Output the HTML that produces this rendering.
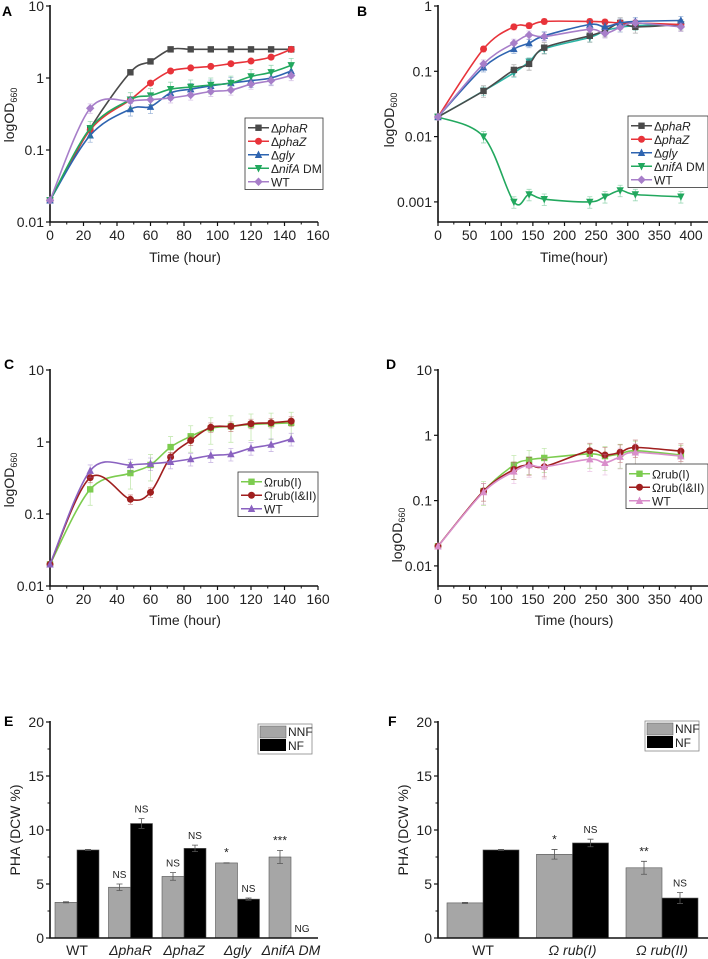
<!DOCTYPE html>
<html><head><meta charset="utf-8">
<style>
html,body{margin:0;padding:0;background:#fff;}
svg{display:block;font-family:"Liberation Sans",sans-serif;}
</style></head>
<body>
<svg id="fig" width="708" height="959" viewBox="0 0 708 959" xmlns="http://www.w3.org/2000/svg">
<text x="2" y="16" font-size="14" font-weight="bold">A</text>
<text x="357" y="16" font-size="14" font-weight="bold">B</text>
<text x="4" y="369" font-size="14" font-weight="bold">C</text>
<text x="386" y="369" font-size="14" font-weight="bold">D</text>
<text x="4" y="726" font-size="14" font-weight="bold">E</text>
<text x="388" y="726" font-size="14" font-weight="bold">F</text>
</svg>
<script>
// ---- Panel A data ----
const aTimes=[0,24,48,60,72,84,96,108,120,132,144];
const aPhaR=[0.02,0.2,1.2,1.7,2.5,2.5,2.5,2.5,2.5,2.5,2.5];
const aPhaZ=[0.02,0.19,0.5,0.85,1.25,1.38,1.45,1.58,1.72,1.95,2.5];
const aGly=[0.02,0.16,0.37,0.4,0.62,0.7,0.78,0.85,0.92,1.0,1.25];
const aNifA=[0.02,0.2,0.5,0.57,0.7,0.75,0.8,0.85,1.05,1.2,1.5];
const aWT=[0.02,0.38,0.48,0.5,0.53,0.58,0.65,0.68,0.82,0.92,1.08];
const aXTicks=[0,20,40,60,80,100,120,140,160];
// ---- Panel B data ----
const bTimes=[0,72,120,144,168,240,264,288,312,384];
const bPhaR=[0.02,0.05,0.105,0.13,0.23,0.35,0.42,0.55,0.48,0.52];
const bPhaZ=[0.02,0.22,0.48,0.5,0.58,0.58,0.57,0.55,0.55,0.52];
const bGly=[0.02,0.115,0.22,0.27,0.35,0.52,0.48,0.55,0.58,0.6];
const bNifA=[0.02,0.01,0.001,0.0013,0.0011,0.001,0.0012,0.0015,0.0013,0.0012];
const bWT=[0.02,0.13,0.27,0.36,0.34,0.44,0.38,0.47,0.55,0.48];
const bExtra=[0.02,0.05,0.095,0.14,0.22,0.33,0.42,0.47,0.5,0.52];
const bXTicks=[0,50,100,150,200,250,300,350,400];
// ---- Panel C data ----
const cTimes=[0,24,48,60,72,84,96,108,120,132,144];
const cRubI=[0.02,0.22,0.37,0.48,0.85,1.2,1.55,1.65,1.75,1.8,1.85];
const cRubI2=[0.02,0.32,0.16,0.2,0.62,1.05,1.6,1.65,1.8,1.85,1.95];
const cWT=[0.02,0.4,0.48,0.5,0.53,0.58,0.65,0.68,0.82,0.92,1.1];
// ---- Panel D data ----
const dTimes=[0,72,120,144,168,240,264,288,312,384];
const dRubI=[0.02,0.14,0.35,0.42,0.45,0.52,0.48,0.52,0.58,0.5];
const dRubI2=[0.02,0.14,0.3,0.35,0.33,0.58,0.5,0.55,0.65,0.57];
const dWT=[0.02,0.135,0.28,0.35,0.33,0.43,0.38,0.47,0.55,0.48];
// ---- Panel E data ----
const eCats=["WT","ΔphaR","ΔphaZ","Δgly","ΔnifA DM"];
const eNNF=[3.3,4.7,5.7,6.95,7.5];
const eNF=[8.15,10.6,8.3,3.6,0];
const eNNFErr=[0.05,0.3,0.35,0.02,0.6];
const eNFErr=[0.05,0.45,0.3,0.1,0];
const eNNFSig=["","NS","NS","*","***"];
const eNFSig=["","NS","NS","NS","NG"];
// ---- Panel F data ----
const fCats=["WT","Ω rub(I)","Ω rub(II)"];
const fNNF=[3.25,7.75,6.5];
const fNF=[8.15,8.8,3.7];
const fNNFErr=[0.05,0.45,0.6];
const fNFErr=[0.05,0.35,0.5];
const fNNFSig=["","*","**"];
const fNFSig=["","NS","NS"];
const barYTicks=[0,5,10,15,20];

const svg=document.getElementById('fig');
const NS='http://www.w3.org/2000/svg';
function mk(tag,attrs,parent){const e=document.createElementNS(NS,tag);for(const k in attrs)e.setAttribute(k,attrs[k]);(parent||svg).appendChild(e);return e;}
function txt(x,y,s,size,anchor,parent){const t=mk('text',{x:x,y:y,'font-size':size,'text-anchor':anchor||'middle',fill:'#222'},parent);t.textContent=s;return t;}
function spline(pts){let d='M'+pts[0][0]+','+pts[0][1];for(let i=0;i<pts.length-1;i++){const p0=pts[i-1]||pts[i],p1=pts[i],p2=pts[i+1],p3=pts[i+2]||p2;const c1=[p1[0]+(p2[0]-p0[0])/6,p1[1]+(p2[1]-p0[1])/6];const c2=[p2[0]-(p3[0]-p1[0])/6,p2[1]-(p3[1]-p1[1])/6];d+=' C'+c1[0].toFixed(1)+','+c1[1].toFixed(1)+' '+c2[0].toFixed(1)+','+c2[1].toFixed(1)+' '+p2[0].toFixed(1)+','+p2[1].toFixed(1);}return d;}
function marker(shape,x,y,color,g){const s=3.2;let e;
 if(shape==='sq')e=mk('rect',{x:x-s,y:y-s,width:2*s,height:2*s,fill:color},g);
 else if(shape==='ci')e=mk('circle',{cx:x,cy:y,r:s+0.3,fill:color},g);
 else if(shape==='tu')e=mk('polygon',{points:`${x},${y-s-1} ${x-s-0.5},${y+s} ${x+s+0.5},${y+s}`,fill:color},g);
 else if(shape==='td')e=mk('polygon',{points:`${x},${y+s+1} ${x-s-0.5},${y-s} ${x+s+0.5},${y-s}`,fill:color},g);
 else e=mk('polygon',{points:`${x},${y-s-1} ${x+s+1},${y} ${x},${y+s+1} ${x-s-1},${y}`,fill:color},g);
 return e;}

function logPanel(cfg){
 const g=mk('g',{});
 
 
 const X=v=>cfg.x0+v/cfg.xmax*cfg.xw;
 const Y=v=>cfg.yTop+(cfg.topExp-Math.log10(v))*cfg.dec;
 const ax=mk('path',{d:`M${cfg.x0},${cfg.yTop-1} L${cfg.x0},${cfg.yBot} L${cfg.xEnd},${cfg.yBot}`,stroke:'#111','stroke-width':1.6,fill:'none'},g);
 
 
 cfg.xTicks.forEach((t,i)=>{const x=X(t);mk('line',{x1:x,y1:cfg.yBot,x2:x,y2:cfg.yBot+4,stroke:'#111','stroke-width':1.2},g);
  const lb=txt(x,cfg.yBot+18,String(t),14,'middle',g);
  
  
  if(i<cfg.xTicks.length-1){const xm=X((t+cfg.xTicks[i+1])/2);mk('line',{x1:xm,y1:cfg.yBot,x2:xm,y2:cfg.yBot+2.5,stroke:'#111','stroke-width':1},g);}});
 cfg.yTicks.forEach(v=>{const y=Y(v);mk('line',{x1:cfg.x0-4,y1:y,x2:cfg.x0,y2:y,stroke:'#111','stroke-width':1.2},g);
  const lb=txt(cfg.x0-6,y+5,String(v),14,'end',g);
  
  });
 const xt=txt(cfg.xLabelX,cfg.xLabelY,cfg.xLabel,14,'middle',g);
 
 
 const yt=mk('text',{x:0,y:0,'font-size':14,'text-anchor':'middle',fill:'#222',transform:`translate(${cfg.yLabelX},${cfg.yLabelY}) rotate(-90)`},g);
 yt.innerHTML='logOD<tspan font-size="9" dy="3">'+cfg.sub+'</tspan>';
 
 
 cfg.series.forEach(s=>{
  const sg=mk('g',{},g);
  
  
  const pts=s.vals.map((v,i)=>[X(cfg.times[i]),Y(v)]);
  s.vals.forEach((v,i)=>{if(i===0)return;const x=X(cfg.times[i]);const e=v*(s.err||0.15);
   mk('path',{d:`M${x},${Y(v+e)} L${x},${Y(Math.max(v-e,v*0.3))} M${x-2.5},${Y(v+e)} L${x+2.5},${Y(v+e)} M${x-2.5},${Y(Math.max(v-e,v*0.3))} L${x+2.5},${Y(Math.max(v-e,v*0.3))}`,stroke:s.color,'stroke-opacity':0.45,'stroke-width':0.8,fill:'none'},sg);});
  const ln=mk('path',{d:spline(pts),stroke:s.color,'stroke-width':1.6,fill:'none'},sg);
  
  
  pts.forEach(p=>{const m=marker(s.shape,p[0],p[1],s.color,sg);
   
   });
 });
 const L=cfg.legend;const lg=mk('g',{},g);
 
 
 const ent=cfg.series.filter(s=>s.label);
 mk('rect',{x:L.x,y:L.y,width:L.w,height:ent.length*L.h+4,fill:'#fff',stroke:'#333','stroke-width':0.8},lg);
 ent.forEach((s,i)=>{const y=L.y+4+L.h*i+L.h/2-1;
  const le=mk('g',{},lg);
  
  
  mk('line',{x1:L.x+3,y1:y,x2:L.x+24,y2:y,stroke:s.color,'stroke-width':1.6},le);
  marker(s.shape,L.x+13.5,y,s.color,le);
  const t=mk('text',{x:L.x+26,y:y+4.5,'font-size':12,fill:'#222'},le);t.innerHTML=s.label;});
}

logPanel({name:'panel-a-chart',x0:50,xw:268,xmax:160,xEnd:318,yTop:6,topExp:1,dec:72,yBot:222,times:aTimes,xTicks:aXTicks,yTicks:[10,1,0.1,0.01],
 xLabel:'Time (hour)',xLabelX:185,xLabelY:262,yLabelX:14,yLabelY:115,sub:'660',
 legend:{x:245,y:118,w:78,h:13.5},
 series:[{key:'phaR',vals:aPhaR,color:'#4a4a4a',shape:'sq',label:'Δ<tspan font-style="italic">phaR</tspan>',err:0.05},
 {key:'phaZ',vals:aPhaZ,color:'#e8333a',shape:'ci',label:'Δ<tspan font-style="italic">phaZ</tspan>',err:0.05},
 {key:'gly',vals:aGly,color:'#2e64b0',shape:'tu',label:'Δ<tspan font-style="italic">gly</tspan>',err:0.2},
 {key:'nifA',vals:aNifA,color:'#22a85e',shape:'td',label:'Δ<tspan font-style="italic">nifA</tspan> DM',err:0.25},
 {key:'wt',vals:aWT,color:'#a77ec9',shape:'di',label:'WT',err:0.15}]});

logPanel({name:'panel-b-chart',x0:438,xw:253,xmax:400,xEnd:708,yTop:6,topExp:0,dec:65.3,yBot:222,times:bTimes,xTicks:bXTicks,yTicks:[1,0.1,0.01,0.001],
 xLabel:'Time(hour)',xLabelX:574,xLabelY:262,yLabelX:394,yLabelY:120,sub:'600',
 legend:{x:628,y:116,w:80,h:13.5},
 series:[{key:'extra',vals:bExtra,color:'#2bb5a5',shape:'td',label:null,err:0.15},
 {key:'phaR',vals:bPhaR,color:'#4a4a4a',shape:'sq',label:'Δ<tspan font-style="italic">phaR</tspan>',err:0.2},
 {key:'phaZ',vals:bPhaZ,color:'#e8333a',shape:'ci',label:'Δ<tspan font-style="italic">phaZ</tspan>',err:0.1},
 {key:'gly',vals:bGly,color:'#2e64b0',shape:'tu',label:'Δ<tspan font-style="italic">gly</tspan>',err:0.15},
 {key:'nifA',vals:bNifA,color:'#22a85e',shape:'td',label:'Δ<tspan font-style="italic">nifA</tspan> DM',err:0.2},
 {key:'wt',vals:bWT,color:'#a77ec9',shape:'di',label:'WT',err:0.15}]});

logPanel({name:'panel-c-chart',x0:50,xw:268,xmax:160,xEnd:318,yTop:370,topExp:1,dec:72,yBot:586,times:cTimes,xTicks:aXTicks,yTicks:[10,1,0.1,0.01],
 xLabel:'Time (hour)',xLabelX:185,xLabelY:625,yLabelX:14,yLabelY:480,sub:'660',
 legend:{x:238,y:472,w:80,h:13.5},
 series:[{key:'rubI',vals:cRubI,color:'#7ccc4f',shape:'sq',label:'Ωrub(I)',err:0.4},
 {key:'rubI-II',vals:cRubI2,color:'#a01f1f',shape:'ci',label:'Ωrub(I&amp;II)',err:0.15},
 {key:'wt',vals:cWT,color:'#8a62c0',shape:'tu',label:'WT',err:0.2}]});

logPanel({name:'panel-d-chart',x0:438,xw:253,xmax:400,xEnd:708,yTop:370,topExp:1,dec:65.3,yBot:586,times:dTimes,xTicks:bXTicks,yTicks:[10,1,0.1,0.01],
 xLabel:'Time (hours)',xLabelX:574,xLabelY:625,yLabelX:402,yLabelY:535,sub:'660',
 legend:{x:626,y:464,w:82,h:13.5},
 series:[{key:'rubI',vals:dRubI,color:'#7ccc4f',shape:'sq',label:'Ωrub(I)',err:0.4},
 {key:'rubI-II',vals:dRubI2,color:'#a01f1f',shape:'ci',label:'Ωrub(I&amp;II)',err:0.3},
 {key:'wt',vals:dWT,color:'#d98ecb',shape:'tu',label:'WT',err:0.35}]});

function barPanel(cfg){
 const g=mk('g',{});
 
 
 const Y=v=>938-v/20*216;
 const bx=i=>cfg.start+i*cfg.step;
 cfg.cats.forEach((c,i)=>{
  [[cfg.nnf,cfg.nnfErr,cfg.nnfSig,'#a6a6a6',0,'nnf'],[cfg.nf,cfg.nfErr,cfg.nfSig,'#000',1,'nf']].forEach(([vals,errs,sig,col,k,key])=>{
   const x=bx(i)+k*cfg.bw,v=vals[i];
   if(v>0){const r=mk('rect',{x:x,y:Y(v),width:cfg.bw,height:938-Y(v),fill:col,stroke:'#555','stroke-width':0.6},g);
    
    
    const cx=x+cfg.bw/2,e=errs[i];
    mk('path',{d:`M${cx},${Y(v+e)} L${cx},${Y(v-e)} M${cx-3},${Y(v+e)} L${cx+3},${Y(v+e)} M${cx-3},${Y(v-e)} L${cx+3},${Y(v-e)}`,stroke:'#555','stroke-width':0.8,fill:'none'},g);}
   if(sig[i]){const t=txt(x+cfg.bw/2,sig[i]==='NG'?Y(0)-6:Y(v+errs[i])-6,sig[i],sig[i].includes('*')?12:10,'middle',g);
    
    }
  });
  const cl=txt(bx(i)+cfg.bw,955,c,14,'middle',g);
  if(c!=='WT')cl.setAttribute('font-style','italic');
  
  
 });
 const ax=mk('path',{d:`M${cfg.x0},721 L${cfg.x0},938 L${cfg.xEnd},938`,stroke:'#111','stroke-width':1.6,fill:'none'},g);
 
 
 barYTicks.forEach(v=>{mk('line',{x1:cfg.x0-4,y1:Y(v),x2:cfg.x0,y2:Y(v),stroke:'#111','stroke-width':1.2},g);
  if(v<20)mk('line',{x1:cfg.x0-2.5,y1:Y(v+2.5),x2:cfg.x0,y2:Y(v+2.5),stroke:'#111','stroke-width':1},g);
  const t=txt(cfg.x0-6,Y(v)+5,String(v),14,'end',g);
  
  });
 const yt=mk('text',{x:0,y:0,'font-size':14,'text-anchor':'middle',fill:'#222',transform:`translate(${cfg.yLabelX},830) rotate(-90)`},g);
 yt.textContent='PHA (DCW %)';
 
 
 const lg=mk('g',{},g);
 
 
 const L=cfg.legend;
 mk('rect',{x:L.x,y:L.y,width:54,height:30,fill:'#fff',stroke:'#888','stroke-width':0.8},lg);
 mk('rect',{x:L.x+2,y:L.y+2,width:26,height:12,fill:'#a6a6a6',stroke:'#555','stroke-width':0.5},lg);
 mk('rect',{x:L.x+2,y:L.y+15,width:26,height:12,fill:'#000'},lg);
 txt(L.x+30,L.y+12,'NNF',12,'start',lg);
 txt(L.x+30,L.y+26,'NF',12,'start',lg);
}
barPanel({name:'panel-e-chart',x0:50,xEnd:318,start:55,step:53.5,bw:22,cats:eCats,nnf:eNNF,nf:eNF,nnfErr:eNNFErr,nfErr:eNFErr,nnfSig:eNNFSig,nfSig:eNFSig,yLabelX:20,legend:{x:258,y:724}});
barPanel({name:'panel-f-chart',x0:438,xEnd:708,start:447,step:89.5,bw:36,cats:fCats,nnf:fNNF,nf:fNF,nnfErr:fNNFErr,nfErr:fNFErr,nnfSig:fNNFSig,nfSig:fNFSig,yLabelX:408,legend:{x:645,y:721}});
</script>
</body></html>
